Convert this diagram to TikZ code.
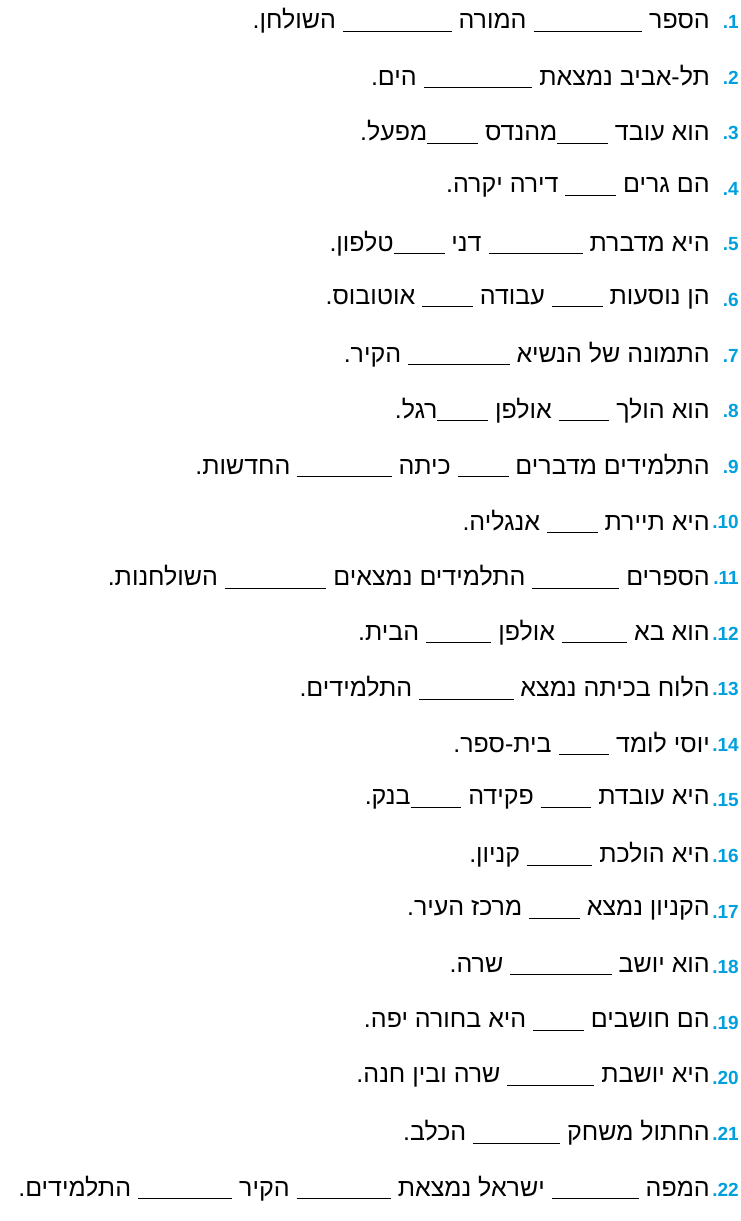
\documentclass[tikz,border=0pt]{standalone}
\usepackage{fontspec}
\usepackage{xcolor}
\TeXXeTstate=1
\newfontfamily\hebfont[Script=Hebrew]{Liberation Sans}
\setmainfont{Liberation Sans}
\definecolor{numblue}{RGB}{0,160,222}
\newcommand{\blank}[1]{\rule[-3pt]{1.45\dimexpr#1pt\relax}{1pt}}
\begin{document}
\begin{tikzpicture}[x=1pt,y=1pt,
  row/.style={anchor=east,inner sep=0pt,font=\hebfont\fontsize{25}{28}\selectfont},
  num/.style={anchor=east,inner sep=0pt,font=\bfseries\fontsize{19}{22}\selectfont,text=numblue}]
  \useasboundingbox (0,0) rectangle (740,-1221);
  % line positions and numbers
  \foreach \i in {1,...,22} {
    \coordinate (p\i) at (710,{-(21+(\i-1)*55.6)});
    \node[num] (n\i) at (739,{-(22+(\i-1)*55.6)}) {.\i};
  }
  \node[row] (r1) at (p1) {\beginR הספר \blank{75} המורה \blank{75} השולחן.\endR};
  \node[row] (r2) at (p2) {\beginR תל-אביב נמצאת \blank{75} הים.\endR};
  \node[row] (r3) at (p3) {\beginR הוא עובד \blank{35}מהנדס \blank{35}מפעל.\endR};
  \node[row] (r4) at (p4) {\beginR הם גרים \blank{35} דירה יקרה.\endR};
  \node[row] (r5) at (p5) {\beginR היא מדברת \blank{65} דני \blank{35}טלפון.\endR};
  \node[row] (r6) at (p6) {\beginR הן נוסעות \blank{35} עבודה \blank{35} אוטובוס.\endR};
  \node[row] (r7) at (p7) {\beginR התמונה של הנשיא \blank{70} הקיר.\endR};
  \node[row] (r8) at (p8) {\beginR הוא הולך \blank{35} אולפן \blank{35}רגל.\endR};
  \node[row] (r9) at (p9) {\beginR התלמידים מדברים \blank{35} כיתה \blank{65} החדשות.\endR};
  \node[row] (r10) at (p10) {\beginR היא תיירת \blank{35} אנגליה.\endR};
  \node[row] (r11) at (p11) {\beginR הספרים \blank{60} התלמידים נמצאים \blank{70} השולחנות.\endR};
  \node[row] (r12) at (p12) {\beginR הוא בא \blank{45} אולפן \blank{45} הבית.\endR};
  \node[row] (r13) at (p13) {\beginR הלוח בכיתה נמצא \blank{65} התלמידים.\endR};
  \node[row] (r14) at (p14) {\beginR יוסי לומד \blank{35} בית-ספר.\endR};
  \node[row] (r15) at (p15) {\beginR היא עובדת \blank{35} פקידה \blank{35}בנק.\endR};
  \node[row] (r16) at (p16) {\beginR היא הולכת \blank{45} קניון.\endR};
  \node[row] (r17) at (p17) {\beginR הקניון נמצא \blank{35} מרכז העיר.\endR};
  \node[row] (r18) at (p18) {\beginR הוא יושב \blank{70} שרה.\endR};
  \node[row] (r19) at (p19) {\beginR הם חושבים \blank{35} היא בחורה יפה.\endR};
  \node[row] (r20) at (p20) {\beginR היא יושבת \blank{60} שרה ובין חנה.\endR};
  \node[row] (r21) at (p21) {\beginR החתול משחק \blank{60} הכלב.\endR};
  \node[row] (r22) at (p22) {\beginR המפה \blank{60} ישראל נמצאת \blank{65} הקיר \blank{65} התלמידים.\endR};
\end{tikzpicture}
\end{document}
